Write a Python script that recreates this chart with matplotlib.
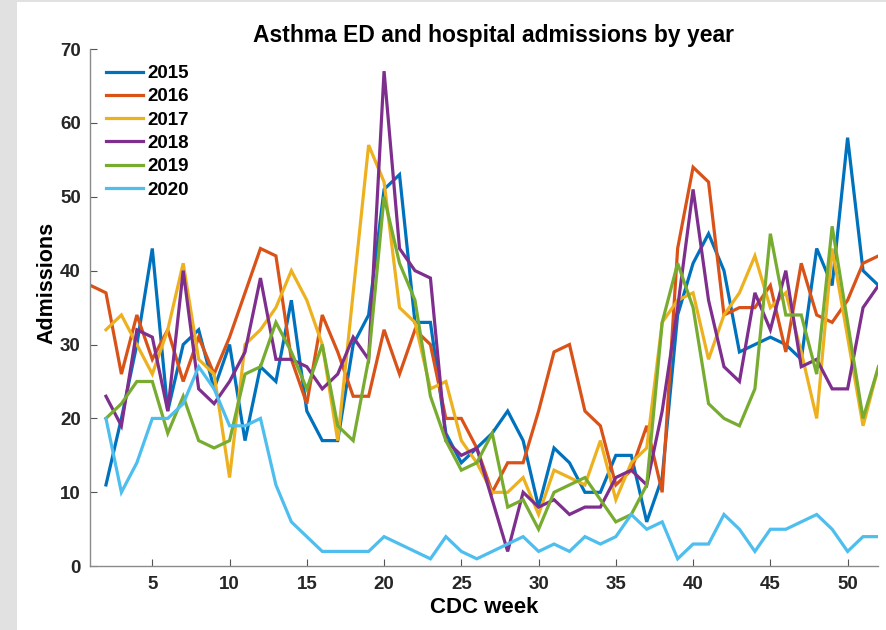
import matplotlib.pyplot as plt
from matplotlib.patches import Rectangle

plt.rcParams['font.family'] = ['Liberation Sans', 'DejaVu Sans']
plt.rcParams['font.weight'] = 'bold'

# weekly admissions; 2016 starts at week 1, the other years at week 2
weeks_2016 = list(range(1, 53))
weeks = list(range(2, 53))

adm_2015 = [11, 20, 30, 43, 21, 30, 32, 24, 30, 17, 27, 25, 36, 21, 17, 17, 30, 34, 51,
            53, 33, 33, 18, 14, 16, 18, 21, 17, 8, 16, 14, 10, 10, 15, 15, 6, 12, 34, 41,
            45, 40, 29, 30, 31, 30, 28, 43, 38, 58, 40, 38]
adm_2016 = [38, 37, 26, 34, 28, 32, 25, 31, 26, 31, 37, 43, 42, 28, 22, 34, 29, 23, 23,
            32, 26, 32, 30, 20, 20, 16, 10, 14, 14, 21, 29, 30, 21, 19, 11, 13, 19, 10, 43,
            54, 52, 34, 35, 35, 38, 29, 41, 34, 33, 36, 41, 42]
adm_2017 = [32, 34, 30, 26, 32, 41, 28, 26, 12, 30, 32, 35, 40, 36, 30, 17, 37, 57, 52,
            35, 33, 24, 25, 17, 14, 10, 10, 12, 7, 13, 12, 11, 17, 9, 14, 16, 33, 36, 37,
            28, 34, 37, 42, 35, 37, 29, 20, 43, 31, 19, 27]
adm_2018 = [23, 19, 32, 31, 21, 40, 24, 22, 25, 29, 39, 28, 28, 27, 24, 26, 31, 28, 67,
            43, 40, 39, 17, 15, 16, 9, 2, 10, 8, 9, 7, 8, 8, 12, 13, 11, 21, 35, 51,
            36, 27, 25, 37, 32, 40, 27, 28, 24, 24, 35, 38]
adm_2019 = [20, 22, 25, 25, 18, 23, 17, 16, 17, 26, 27, 33, 29, 24, 30, 19, 17, 28, 50,
            41, 36, 23, 17, 13, 14, 18, 8, 9, 5, 10, 11, 12, 9, 6, 7, 11, 33, 41, 35,
            22, 20, 19, 24, 45, 34, 34, 26, 46, 33, 20, 27]
adm_2020 = [20, 10, 14, 20, 20, 22, 27, 24, 19, 19, 20, 11, 6, 4, 2, 2, 2, 2, 4,
            3, 2, 1, 4, 2, 1, 2, 3, 4, 2, 3, 2, 4, 3, 4, 7, 5, 6, 1, 3,
            3, 7, 5, 2, 5, 5, 6, 7, 5, 2, 4, 4]

years = ['2015', '2016', '2017', '2018', '2019', '2020']
colors = ['#0072BD', '#D95319', '#EDB120', '#7E2F8E', '#77AC30', '#4DBEEE']

fig = plt.figure(figsize=(8.87, 6.3), dpi=100, facecolor='white')
# thin grey strips along the left and top edges
fig.patches.append(Rectangle((0, 0), 17 / 887, 1, transform=fig.transFigure,
                             facecolor='#e1e1e1', edgecolor='none', zorder=-5))
fig.patches.append(Rectangle((0, 628 / 630), 1, 2 / 630, transform=fig.transFigure,
                             facecolor='#e1e1e1', edgecolor='none', zorder=-5))
ax = fig.add_axes([90.5 / 887, 1 - 566.2 / 630, 788 / 887, (566.2 - 49) / 630])

series = [(weeks, adm_2015), (weeks_2016, adm_2016), (weeks, adm_2017),
          (weeks, adm_2018), (weeks, adm_2019), (weeks, adm_2020)]
for (x, y), label, c in zip(series, years, colors):
    ax.plot(x, y, color=c, lw=2.3, label=label, solid_joinstyle='miter')

ax.set_xlim(1, 52)
ax.set_ylim(0, 70)
ax.set_xticks(range(5, 51, 5))
ax.set_yticks(range(0, 71, 10))
for side in ['top', 'right']:
    ax.spines[side].set_visible(False)
for side in ['left', 'bottom']:
    ax.spines[side].set_color('#8a8a8a')
    ax.spines[side].set_linewidth(1.0)
ax.tick_params(direction='in', length=5, width=0.8, color='#555555',
               labelsize=13.5, labelcolor='#262626', pad=7)
for lab in ax.get_xticklabels() + ax.get_yticklabels():
    lab.set_fontweight('bold')

ax.set_title('Asthma ED and hospital admissions by year', fontsize=16.5,
             fontweight='bold', x=0.512, pad=5)
ax.set_xlabel('CDC week', fontsize=16, fontweight='bold', labelpad=3)
ax.set_ylabel('Admissions', fontsize=15.5, fontweight='bold')
ax.yaxis.set_label_coords(-0.042, 0.548)

leg = ax.legend(loc='upper left', frameon=False, handlelength=1.95,
                handletextpad=0.22, labelspacing=0.33, borderaxespad=0.45,
                prop={'weight': 'bold', 'size': 13.5})

fig.savefig('out.png', dpi=100)
